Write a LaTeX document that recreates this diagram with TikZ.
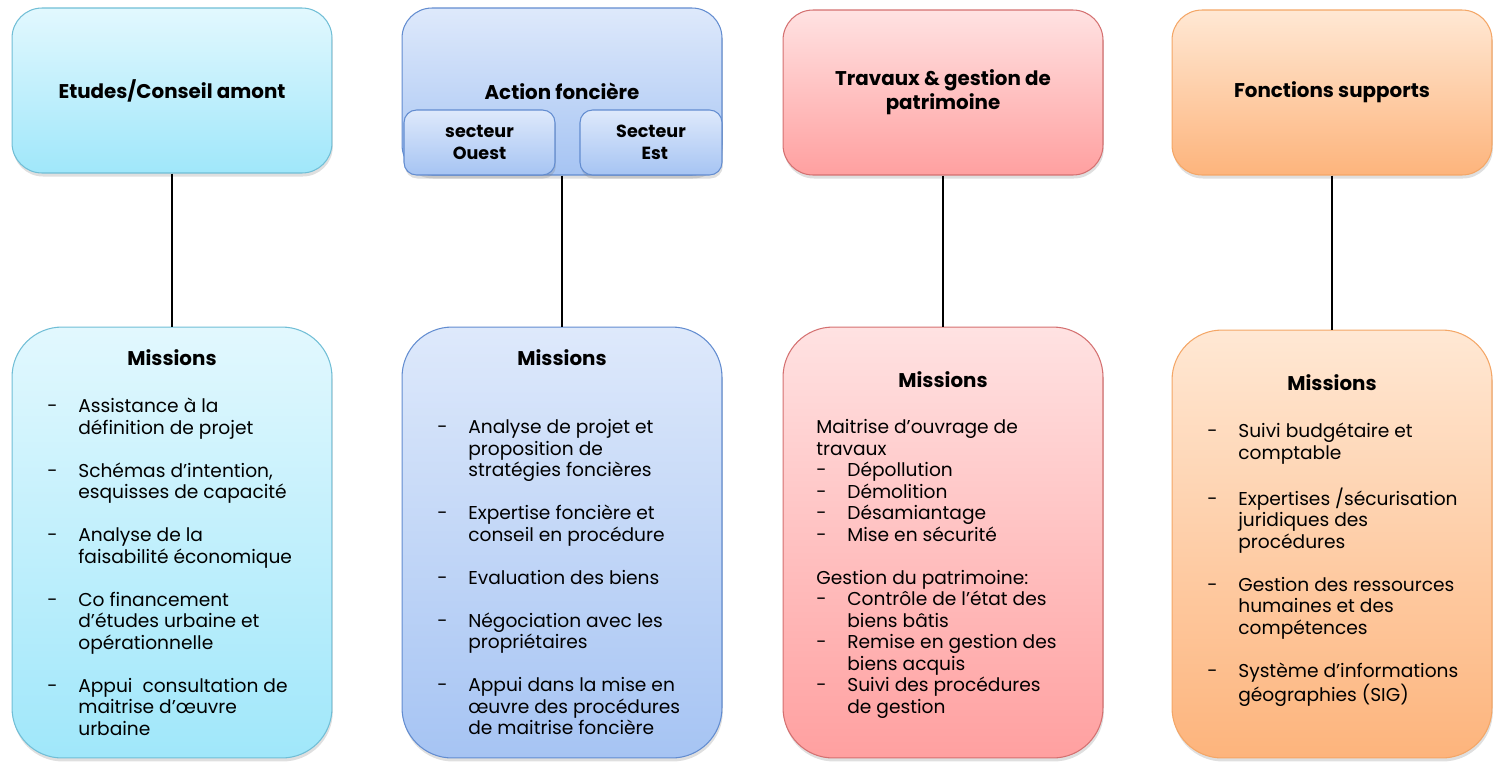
\documentclass[tikz,border=0pt]{standalone}
\usepackage{fontspec}
\setmainfont{Poppins}
\usetikzlibrary{shadows}

\definecolor{cyanTop}{RGB}{226,248,254}
\definecolor{cyanBot}{RGB}{160,231,250}
\definecolor{cyanLine}{RGB}{112,190,214}
\definecolor{blueTop}{RGB}{222,233,251}
\definecolor{blueBot}{RGB}{166,196,243}
\definecolor{blueLine}{RGB}{98,140,208}
\definecolor{redTop}{RGB}{255,226,226}
\definecolor{redBot}{RGB}{255,160,160}
\definecolor{redLine}{RGB}{212,112,112}
\definecolor{orangeTop}{RGB}{255,232,212}
\definecolor{orangeBot}{RGB}{253,180,124}
\definecolor{orangeLine}{RGB}{244,166,102}

\newcommand{\dashitem}[1]{\makebox[0.62cm][l]{-}#1}
\newcommand{\contline}[1]{\hspace*{0.62cm}#1}

\begin{document}
\begin{tikzpicture}[x=0.02cm,y=-0.02cm,
    headbox/.style={draw, line width=0.6pt, rounded corners=0.6cm,
      minimum width=6.4cm, minimum height=3.3cm, align=center,
      font=\bfseries\fontsize{11.3}{13.6}\selectfont,
      drop shadow={opacity=0.25, shadow xshift=0.5pt, shadow yshift=-2pt}},
    sectorbox/.style={draw, line width=0.6pt, rounded corners=0.25cm,
      minimum height=1.3cm, align=center,
      font=\fontsize{10}{12.4}\selectfont\bfseries,
      drop shadow={opacity=0.25, shadow xshift=0.5pt, shadow yshift=-2pt}},
    missbox/.style={draw, line width=0.6pt, rounded corners=1cm,
      minimum width=6.4cm, align=center,
      drop shadow={opacity=0.25, shadow xshift=0.5pt, shadow yshift=-2pt}},
    misstitle/.style={font=\bfseries\fontsize{11.3}{13.6}\selectfont},
    misslist/.style={anchor=north west, align=left, inner sep=0pt,
      font=\fontsize{10.6}{12.24}\selectfont},
    link/.style={draw, line width=0.7pt}]
  \useasboundingbox (0,0) rectangle (1494,761);

  % column heads
  \node[headbox, top color=cyanTop, bottom color=cyanBot, draw=cyanLine]
    (etudes) at (172,90.5) {Etudes/Conseil amont};
  \node[headbox, top color=blueTop, bottom color=blueBot, draw=blueLine,
    minimum height=3.34cm] (fonciere) at (562,91.5) {};
  \node[misstitle] (fonciereT) at (562,91) {Action foncière};
  \node[sectorbox, minimum width=3.02cm, top color=blueTop, bottom color=blueBot,
    draw=blueLine] (ouest) at (479.5,142.5) {secteur\\Ouest};
  \node[sectorbox, minimum width=2.84cm, top color=blueTop, bottom color=blueBot,
    draw=blueLine] (est) at (651,142.5) {Secteur\\\hspace*{0.15cm}Est};
  \node[headbox, top color=redTop, bottom color=redBot, draw=redLine]
    (travaux) at (943,92.5) {Travaux \& gestion de\\patrimoine};
  \node[headbox, top color=orangeTop, bottom color=orangeBot, draw=orangeLine]
    (supports) at (1332,92.5) {Fonctions supports};

  % mission boxes
  \node[missbox, minimum height=8.62cm, top color=cyanTop, bottom color=cyanBot,
    draw=cyanLine] (mEtudes) at (172,542.5) {};
  \node[missbox, minimum height=8.62cm, top color=blueTop, bottom color=blueBot,
    draw=blueLine] (mFonciere) at (562,542.5) {};
  \node[missbox, minimum height=8.62cm, top color=redTop, bottom color=redBot,
    draw=redLine] (mTravaux) at (943,542.5) {};
  \node[missbox, minimum height=8.56cm, top color=orangeTop, bottom color=orangeBot,
    draw=orangeLine] (mSupports) at (1332,544) {};

  \path[link] (etudes.south) -- (mEtudes.north);
  \path[link] (fonciere.south) -- (mFonciere.north);
  \path[link] (travaux.south) -- (mTravaux.north);
  \path[link] (supports.south) -- (mSupports.north);

  \node[misstitle] (tEtudes) at (172,358) {Missions};
  \node[misstitle] (tFonciere) at (562,358) {Missions};
  \node[misstitle] (tTravaux) at (943,380) {Missions};
  \node[misstitle] (tSupports) at (1332,383) {Missions};

  \node[misslist] (lEtudes) at (47,398) {%
    \dashitem{Assistance à la}\\
    \contline{définition de projet}\\[12.24pt]
    \dashitem{Schémas d’intention,}\\
    \contline{esquisses de capacité}\\[12.24pt]
    \dashitem{Analyse de la}\\
    \contline{faisabilité économique}\\[12.24pt]
    \dashitem{Co financement}\\
    \contline{d’études urbaine et}\\
    \contline{opérationnelle}\\[12.24pt]
    \dashitem{Appui\ \ consultation de}\\
    \contline{maitrise d’œuvre}\\
    \contline{urbaine}};

  \node[misslist] (lFonciere) at (437,419) {%
    \dashitem{Analyse de projet et}\\
    \contline{proposition de}\\
    \contline{stratégies foncières}\\[12.24pt]
    \dashitem{Expertise foncière et}\\
    \contline{conseil en procédure}\\[12.24pt]
    \dashitem{Evaluation des biens}\\[12.24pt]
    \dashitem{Négociation avec les}\\
    \contline{propriétaires}\\[12.24pt]
    \dashitem{Appui dans la mise en}\\
    \contline{œuvre des procédures}\\
    \contline{de maitrise foncière}};

  \node[misslist] (lTravaux) at (816,419) {%
    Maitrise d’ouvrage de\\
    travaux\\
    \dashitem{Dépollution}\\
    \dashitem{Démolition}\\
    \dashitem{Désamiantage}\\
    \dashitem{Mise en sécurité}\\[12.24pt]
    Gestion du patrimoine:\\
    \dashitem{Contrôle de l’état des}\\
    \contline{biens bâtis}\\
    \dashitem{Remise en gestion des}\\
    \contline{biens acquis}\\
    \dashitem{Suivi des procédures}\\
    \contline{de gestion}};

  \node[misslist] (lSupports) at (1207,423) {%
    \dashitem{Suivi budgétaire et}\\
    \contline{comptable}\\[12.24pt]
    \dashitem{Expertises /sécurisation}\\
    \contline{juridiques des}\\
    \contline{procédures}\\[12.24pt]
    \dashitem{Gestion des ressources}\\
    \contline{humaines et des}\\
    \contline{compétences}\\[12.24pt]
    \dashitem{Système d’informations}\\
    \contline{géographies (SIG)}};
\end{tikzpicture}
\end{document}
